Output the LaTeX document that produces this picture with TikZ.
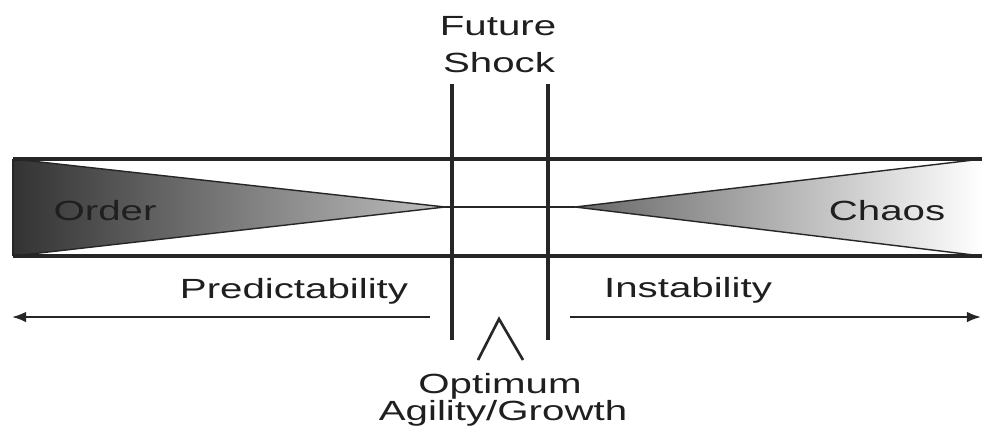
\documentclass[tikz,border=0pt]{standalone}
\usepackage{fontspec}
\setmainfont{Liberation Sans}
\newfontfamily\widefont[FakeStretch=1.45]{Liberation Sans}
\usetikzlibrary{arrows.meta}
\begin{document}
\begin{tikzpicture}[x=0.02cm,y=-0.02cm,
  lbl/.style={font=\widefont\fontsize{15.8}{18}\selectfont, text=black!88, inner sep=0pt, anchor=base},
  heavy/.style={line width=2.3pt, draw=black!85},
  thinline/.style={line width=1.1pt, draw=black!85},
  arrowline/.style={line width=1.1pt, draw=black!85, -{Latex[length=8pt,width=6pt]}}]
\useasboundingbox (0,0) rectangle (982,427);
% wedges
\coordinate (lt) at (13,159);
\coordinate (lb) at (13,256);
\coordinate (ltip) at (445,207);
\coordinate (rtip) at (575,207);
\coordinate (rt) at (982,159);
\coordinate (rb) at (982,256);
\shade[left color=black!80, right color=black!25] (lt) -- (ltip) -- (lb) -- cycle;
\draw[thinline, line width=0.8pt] (lt) -- (ltip) -- (lb);
\shade[left color=black!60, right color=white] (rtip) -- (rt) -- (rb) -- cycle;
\draw[thinline, line width=0.8pt] (rt) -- (rtip) -- (rb);
\draw[thinline, line width=1.4pt] (ltip) -- (rtip);
% horizontal bounding lines
\draw[heavy] (lt) -- (rt);
\draw[heavy] (lb) -- (rb);
\draw[heavy, line width=1.2pt] (lt) -- (lb);
% vertical lines
\coordinate (v1t) at (452,84);
\coordinate (v1b) at (452,340);
\coordinate (v2t) at (548,84);
\coordinate (v2b) at (548,340);
\draw[heavy] (v1t) -- (v1b);
\draw[heavy] (v2t) -- (v2b);
% arrows
\coordinate (la1) at (430,317);
\coordinate (la2) at (12,317);
\coordinate (ra1) at (570,317);
\coordinate (ra2) at (981,317);
\draw[arrowline] (la1) -- (la2);
\draw[arrowline] (ra1) -- (ra2);
% caret
\coordinate (c1) at (478,360);
\coordinate (c2) at (499,319);
\coordinate (c3) at (523,360);
\draw[thinline, line width=1.5pt] (c1) -- (c2) -- (c3);
% labels
\node[lbl] (future) at (498,35) {Future};
\node[lbl] (shock) at (499,72) {Shock};
\node[lbl] (order) at (105,220) {Order};
\node[lbl] (chaos) at (887,220) {Chaos};
\node[lbl] (pred) at (294,298) {Predictability};
\node[lbl] (inst) at (688,297) {Instability};
\node[lbl] (opt) at (500,393) {Optimum};
\node[lbl] (agil) at (503,420) {Agility/Growth};
\end{tikzpicture}
\end{document}
